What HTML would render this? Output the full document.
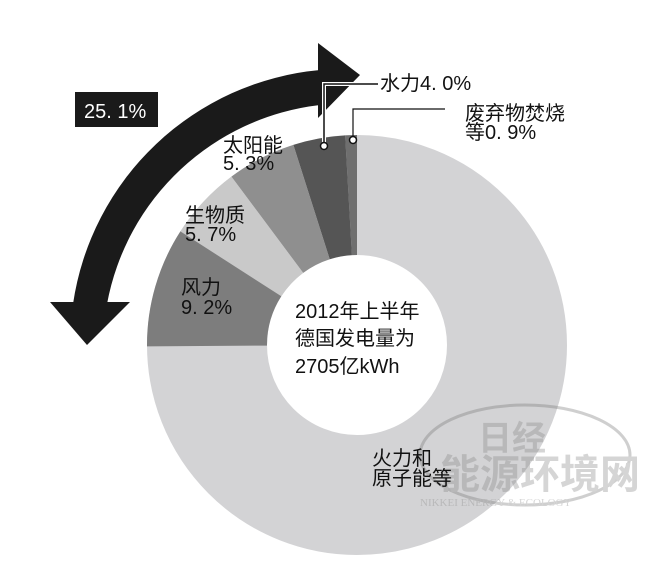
<!DOCTYPE html>
<html><head><meta charset="utf-8"><style>
body{margin:0;background:#fff;}
svg{display:block;font-family:"Liberation Sans","Noto Sans CJK SC",sans-serif;}
</style></head><body>
<svg width="652" height="561" viewBox="0 0 652 561" xmlns="http://www.w3.org/2000/svg">
<circle cx="357" cy="345" r="150" fill="none" stroke="#d3d3d5" stroke-width="120"/>
<path d="M357,135 A210,210 0 0 0 345.13,135.34 L351.92,255.14 A90,90 0 0 1 357,255 Z" fill="#6f6f6f"/>
<path d="M345.13,135.34 A210,210 0 0 0 293.37,144.87 L329.73,259.23 A90,90 0 0 1 351.92,255.14 Z" fill="#555555"/>
<path d="M293.37,144.87 A210,210 0 0 0 231.44,176.66 L303.19,272.86 A90,90 0 0 1 329.73,259.23 Z" fill="#8f8f8f"/>
<path d="M231.44,176.66 A210,210 0 0 0 180.39,231.39 L281.31,296.31 A90,90 0 0 1 303.19,272.86 Z" fill="#c9c9c9"/>
<path d="M180.39,231.39 A210,210 0 0 0 147,346.32 L267,345.57 A90,90 0 0 1 281.31,296.31 Z" fill="#7d7d7d"/>
<!-- watermark -->
<g opacity="0.35" fill="#888">
<ellipse cx="525" cy="455" rx="105" ry="50" fill="none" stroke="#777" stroke-width="3"/>
<text x="478" y="450" font-size="34" font-weight="bold">日经</text>
<text x="440" y="488" font-size="40" font-weight="bold">能源环境网</text>
<text x="420" y="506" font-size="11" font-family="Liberation Serif">NIKKEI ENERGY &amp; ECOLOGY</text>
</g>
<!-- arrow -->
<path d="M320,70 A275,275 0 0 0 73,304 L107,304 A245,245 0 0 1 320,105 Z" fill="#1a1a1a"/>
<polygon points="318,43 360,75 318,118" fill="#1a1a1a"/>
<polygon points="50,302 130,302 87,345" fill="#1a1a1a"/>
<rect x="75" y="92" width="83" height="35" fill="#1a1a1a"/>
<text x="84" y="118" font-size="20" fill="#fff">25. 1%</text>
<!-- leader lines -->
<polyline points="324,146 324,84 378,84" fill="none" stroke="#fff" stroke-width="4"/>
<polyline points="324,146 324,84 378,84" fill="none" stroke="#111" stroke-width="1.5"/>
<polyline points="353,139 353,109 445,109" fill="none" stroke="#111" stroke-width="1.2"/>
<circle cx="324" cy="146" r="3.5" fill="#fff" stroke="#111" stroke-width="1.5"/>
<circle cx="353" cy="140" r="3.5" fill="#fff" stroke="#111" stroke-width="1.5"/>
<g font-size="20" fill="#111">
<text x="380" y="90">水力4. 0%</text>
<text x="465" y="120">废弃物焚烧</text>
<text x="465" y="139">等0. 9%</text>
<text x="223" y="152">太阳能</text>
<text x="223" y="170">5. 3%</text>
<text x="185" y="222">生物质</text>
<text x="185" y="241">5. 7%</text>
<text x="181" y="294">风力</text>
<text x="181" y="314">9. 2%</text>
<text x="295" y="318">2012年上半年</text>
<text x="295" y="345">德国发电量为</text>
<text x="295" y="373">2705亿kWh</text>
<text x="372" y="465">火力和</text>
<text x="372" y="485">原子能等</text>
</g>
</svg>
</body></html>
